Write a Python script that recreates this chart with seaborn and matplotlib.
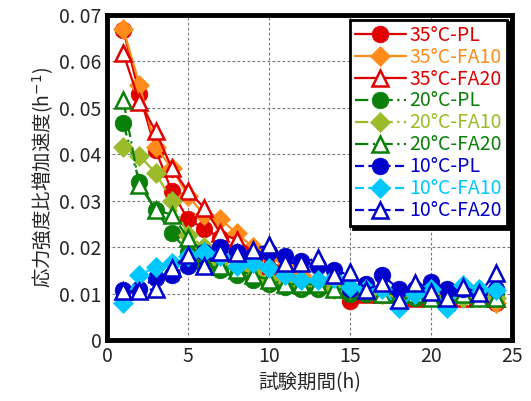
import numpy as np
import pandas as pd
import matplotlib
matplotlib.use("Agg")
import matplotlib.pyplot as plt
import seaborn as sns

hours = list(range(1, 25))

pl35 = [0.0668, 0.053, 0.041, 0.032, 0.026, 0.024, 0.022, 0.019, 0.017, 0.015, 0.013, 0.012,
        0.012, 0.011, 0.0085, 0.011, 0.010, 0.010, 0.010, 0.009, 0.010, 0.010, 0.010, 0.008]
fa10_35 = [0.067, 0.055, 0.0416, 0.037, 0.031, 0.027, 0.026, 0.023, 0.020, 0.018, 0.016, 0.014,
           0.013, 0.012, 0.011, 0.011, 0.010, 0.010, 0.010, 0.010, 0.009, 0.010, 0.010, 0.008]
fa20_35 = [0.0618, 0.0513, 0.045, 0.037, 0.032, 0.0285, 0.023, 0.0216, 0.019, 0.017, 0.015, 0.013,
           0.012, 0.012, 0.011, 0.010, 0.010, 0.010, 0.009, 0.010, 0.009, 0.009, 0.010, 0.009]
pl20 = [0.0468, 0.034, 0.028, 0.023, 0.019, 0.016, 0.015, 0.014, 0.013, 0.012, 0.0115, 0.011,
        0.011, 0.011, 0.010, 0.010, 0.0105, 0.009, 0.009, 0.010, 0.010, 0.010, 0.009, 0.010]
fa10_20 = [0.0416, 0.0397, 0.036, 0.0300, 0.0226, 0.020, 0.017, 0.016, 0.015, 0.013, 0.013, 0.012,
           0.012, 0.011, 0.011, 0.011, 0.010, 0.010, 0.010, 0.010, 0.010, 0.009, 0.010, 0.009]
fa20_20 = [0.0517, 0.0334, 0.028, 0.027, 0.022, 0.019, 0.016, 0.015, 0.014, 0.013, 0.012, 0.012,
           0.012, 0.011, 0.011, 0.011, 0.010, 0.010, 0.010, 0.009, 0.010, 0.010, 0.009, 0.009]
pl10 = [0.0108, 0.011, 0.0134, 0.014, 0.016, 0.019, 0.020, 0.019, 0.018, 0.019, 0.018, 0.017,
        0.016, 0.015, 0.011, 0.012, 0.014, 0.011, 0.011, 0.0125, 0.011, 0.011, 0.0103, 0.011]
fa10_10 = [0.008, 0.014, 0.0157, 0.0166, 0.018, 0.019, 0.018, 0.016, 0.0165, 0.0155, 0.014, 0.013,
           0.013, 0.0134, 0.0115, 0.011, 0.011, 0.0069, 0.010, 0.011, 0.007, 0.0118, 0.011, 0.0108]
fa20_10 = [0.0105, 0.0105, 0.011, 0.0155, 0.0183, 0.016, 0.019, 0.0188, 0.0194, 0.0205, 0.0166, 0.0166,
           0.0177, 0.014, 0.0147, 0.0108, 0.0123, 0.0086, 0.0123, 0.0103, 0.009, 0.0114, 0.0101, 0.0144]

labels = ["35°C-PL", "35°C-FA10", "35°C-FA20", "20°C-PL", "20°C-FA10", "20°C-FA20",
          "10°C-PL", "10°C-FA10", "10°C-FA20"]
series = [pl35, fa10_35, fa20_35, pl20, fa10_20, fa20_20, pl10, fa10_10, fa20_10]
colors = ["#E00000", "#FF8C1A", "#E00000", "#0A7F0A", "#9BBB2A", "#0A7F0A",
          "#0000CC", "#00C8FF", "#0000CC"]
markers = ["o", "D", "^", "o", "D", "^", "o", "D", "^"]
filled = [True, True, False, True, True, False, True, True, False]
styles = ["-", "-", "-", (0, (6, 2, 1, 2)), (0, (6, 2, 1, 2)), (0, (6, 2, 1, 2)),
          (0, (4, 2)), (0, (4, 2)), (0, (4, 2))]

xticks = [0, 5, 10, 15, 20, 25]
yticks = [0, 0.01, 0.02, 0.03, 0.04, 0.05, 0.06, 0.07]
ytick_labels = ["0", "0. 01", "0. 02", "0. 03", "0. 04", "0. 05", "0. 06", "0. 07"]

sns.set_theme(style="white")
plt.rcParams['font.family'] = ['Noto Sans CJK JP', 'DejaVu Sans']
plt.rcParams['mathtext.fontset'] = 'dejavusans'

fig = plt.figure(figsize=(5.31, 4.01), dpi=100)
ax = fig.add_axes([0.2015, 0.152, 0.7625, 0.811])

for lab, vals, col, mk, fl, ls in zip(labels, series, colors, markers, filled, styles):
    df = pd.DataFrame({"t": hours, "v": vals})
    ms = 12 if mk != "D" else 10
    sns.lineplot(data=df, x="t", y="v", ax=ax, color=col, linewidth=1.6,
                 linestyle=ls, marker=mk, markersize=ms,
                 markerfacecolor=col if fl else "white",
                 markeredgecolor=col, markeredgewidth=1.8 if not fl else 0.5,
                 label=lab)

ax.set_xlim(0, 25)
ax.set_ylim(0, 0.07)
ax.set_xticks(xticks)
ax.set_xticklabels([str(x) for x in xticks], fontsize=14)
ax.set_yticks(yticks)
ax.set_yticklabels(ytick_labels, fontsize=14)
ax.grid(True, color="#777777", linestyle=(0, (2.5, 2)), linewidth=0.8)
ax.tick_params(axis="both", direction="in", length=4, width=1, color="black", pad=4)
for sp in ax.spines.values():
    sp.set_linewidth(3.5)
    sp.set_color("black")

ax.set_xlabel("試験期間(h)", fontsize=14, labelpad=4)
ax.set_ylabel("応力強度比増加速度(h$^{-1}$)", fontsize=14, labelpad=2)

leg = ax.legend(loc="upper right", fontsize=14, frameon=True, fancybox=False,
                shadow={"color": "black", "alpha": 1}, handlelength=2.6,
                handletextpad=0.2, labelspacing=0.05, borderpad=0.25,
                borderaxespad=0.25)
leg.get_frame().set_edgecolor("black")
leg.get_frame().set_linewidth(2)
for txt, col in zip(leg.get_texts(), colors):
    txt.set_color(col)

fig.savefig("out.png", dpi=100)
